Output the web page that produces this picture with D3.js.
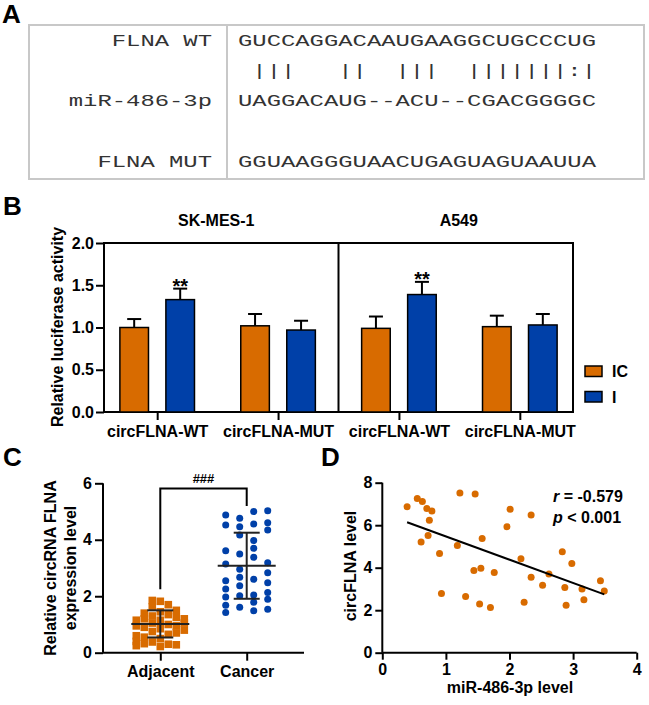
<!DOCTYPE html>
<html><head><meta charset="utf-8">
<script src="https://cdn.jsdelivr.net/npm/d3@7"></script>
<style>body{margin:0;background:#fff} svg{display:block}</style>
</head><body>
<svg id="c" width="649" height="705"></svg>
<script>
// ---------- Panel A data ----------
const seqLabels = ["FLNA WT", "", "miR-486-3p", "FLNA MUT"];
const seqRows = ["GUCCAGGACAAUGAAGGCUGCCCUG", " |||   ||  |||  |||||||:|", "UAGGACAUG--ACU--CGACGGGGC", "GGUAAGGGUAACUGAGUAGUAAUUA"];
// ---------- Panel B data ----------
const groups = ["circFLNA-WT", "circFLNA-MUT", "circFLNA-WT", "circFLNA-MUT"];
const cellLines = ["SK-MES-1", "A549"];
const seriesNames = ["IC", "I"];
const icMean = [1.00, 1.02, 0.99, 1.01];
const icErr = [0.10, 0.14, 0.14, 0.13];
const iMean = [1.33, 0.97, 1.39, 1.03];
const iErr = [0.13, 0.11, 0.15, 0.13];
const sigMarks = ["**", "", "**", ""];
const bTicks = [0, 0.5, 1, 1.5, 2];
// ---------- Panel C data ----------
const tissues = ["Adjacent", "Cancer"];
const adjacentCols = [
  [1.15, 0.95, 0.60, 0.40, 0.25],
  [1.40, 1.20, 0.90, 0.55, 0.32],
  [1.85, 1.62, 1.30, 1.05, 0.75, 0.38],
  [1.82, 1.45, 1.15, 0.85, 0.50, 0.22],
  [1.70, 1.35, 1.00, 0.65, 0.30],
  [1.50, 1.25, 0.95, 0.70, 0.28],
  [1.20, 1.05, 0.80]
];
const cancerCols = [
  [4.88, 4.52, 3.61, 3.14, 2.55, 2.26, 1.97, 1.68, 1.42],
  [4.76, 4.46, 4.17, 3.50, 2.96, 2.67, 2.37, 2.02, 1.61],
  [5.00, 4.56, 3.97, 3.70, 3.38, 2.60, 2.04, 1.79, 1.49],
  [5.03, 4.60, 4.35, 3.19, 2.83, 2.48, 2.13, 1.89, 1.54]
];
const tissueMean = [1.02, 3.08];
const tissueSD = [0.48, 1.17];
const cTicks = [0, 2, 4, 6];
const cSig = "###";
const cBracket = [2.25, 5.82, 5.20];
// ---------- Panel D data ----------
const mirLevel = [0.39,0.55,0.63,0.70,0.78,0.74,0.72,0.61,0.90,0.93,1.18,1.22,1.46,1.31,1.44,1.55,1.57,1.53,1.70,1.76,1.96,2.01,2.18,2.23,2.34,2.34,2.52,2.62,2.83,2.87,2.89,2.98,3.14,3.17,3.43,3.49];
const circLevel = [6.87,7.26,7.11,6.79,6.67,6.23,5.51,5.21,4.67,2.79,5.05,7.51,7.47,2.64,3.87,3.97,5.38,2.29,2.13,3.78,5.93,6.75,4.42,2.38,3.55,6.48,3.17,3.70,4.75,3.07,2.23,4.20,3.00,2.49,3.39,2.90];
const dxTicks = [0, 1, 2, 3, 4];
const dyTicks = [0, 2, 4, 6, 8];
const corrR = "-0.579";
const corrP = "< 0.001";

// ---------- styles ----------
const SANS = "'Liberation Sans', Arial, Helvetica, sans-serif";
const MONO = "'Liberation Mono', 'Courier New', monospace";
const ORANGE = "#D86B00";
const BLUE = "#0040A8";
const svg = d3.select("#c");

function styleAxis(g, fs) {
  g.select(".domain").attr("stroke", "#000").attr("stroke-width", 2);
  g.selectAll(".tick line").attr("stroke", "#000").attr("stroke-width", 2);
  g.selectAll("text").attr("font-family", SANS).attr("font-size", fs || 16)
    .attr("font-weight", "bold").attr("fill", "#000");
}
function panelLabel(t, x, y) {
  svg.append("text").attr("x", x).attr("y", y).text(t)
    .attr("font-family", SANS).attr("font-size", 26).attr("font-weight", "bold");
}

// ================= Panel A =================
panelLabel("A", 2, 23);
const boxTop = 25, boxBot = 179;
svg.append("rect").attr("x", 29).attr("y", boxTop).attr("width", 615).attr("height", boxBot - boxTop)
  .attr("fill", "none").attr("stroke", "#c8c8c8").attr("stroke-width", 2);
svg.append("line").attr("x1", 227).attr("x2", 227).attr("y1", boxTop).attr("y2", boxBot)
  .attr("stroke", "#c8c8c8").attr("stroke-width", 2);
const charW = 14.32;
const rowBase = [46, 76, 105.5, 167];
seqLabels.forEach((l, i) => {
  if (!l) return;
  svg.append("text").attr("x", 212).attr("y", rowBase[i]).attr("text-anchor", "end")
    .attr("font-family", MONO).attr("font-size", 16)
    .attr("textLength", l.length * charW).attr("lengthAdjust", "spacingAndGlyphs")
    .attr("fill", "#333").text(l);
});
seqRows.forEach((s, i) => {
  svg.append("text").attr("x", 238).attr("y", rowBase[i]).attr("xml:space", "preserve")
    .style("white-space", "pre")
    .attr("font-family", MONO).attr("font-size", 16)
    .attr("textLength", s.length * charW).attr("lengthAdjust", "spacingAndGlyphs")
    .attr("fill", "#333").text(s);
});

// ================= Panel B =================
panelLabel("B", 3, 215);
const bx = d3.scalePoint().domain(d3.range(groups.length)).range([104, 573]).padding(0.44);
const by = d3.scaleLinear().domain([0, 2]).range([412, 243]);
const bW = 28.6, bOff = 23;
const gB = svg.append("g");
gB.append("rect").attr("x", 104).attr("y", 243).attr("width", 469).attr("height", 169)
  .attr("fill", "none").attr("stroke", "#000").attr("stroke-width", 2);
const midX = (bx(1) + bx(2)) / 2;
gB.append("line").attr("x1", midX).attr("x2", midX).attr("y1", 243).attr("y2", 412)
  .attr("stroke", "#000").attr("stroke-width", 2);
cellLines.forEach((t, k) => {
  const cx = k === 0 ? (104 + midX) / 2 - 5 : (midX + 573) / 2 + 3;
  gB.append("text").attr("x", cx).attr("y", 226).attr("text-anchor", "middle")
    .attr("font-family", SANS).attr("font-size", 16).attr("font-weight", "bold").text(t);
});
const series = [
  { name: seriesNames[0], mean: icMean, err: icErr, color: ORANGE, off: -bOff },
  { name: seriesNames[1], mean: iMean, err: iErr, color: BLUE, off: bOff }
];
series.forEach(s => {
  s.mean.forEach((v, i) => {
    const cx = bx(i) + s.off;
    const top = by(v + s.err[i]);
    gB.append("line").attr("x1", cx).attr("x2", cx).attr("y1", by(v)).attr("y2", top)
      .attr("stroke", "#000").attr("stroke-width", 2);
    gB.append("line").attr("x1", cx - 7).attr("x2", cx + 7).attr("y1", top).attr("y2", top)
      .attr("stroke", "#000").attr("stroke-width", 2);
    gB.append("rect").attr("x", cx - bW / 2).attr("y", by(v)).attr("width", bW)
      .attr("height", by(0) - by(v)).attr("fill", s.color).attr("stroke", "#000").attr("stroke-width", 1.5);
  });
});
sigMarks.forEach((m, i) => {
  if (!m) return;
  const cx = bx(i) + bOff;
  gB.append("text").attr("x", cx).attr("y", by(iMean[i] + iErr[i]) + 4).attr("text-anchor", "middle")
    .attr("font-family", SANS).attr("font-size", 20).attr("font-weight", "bold").text(m);
});
const bLeft = gB.append("g").attr("transform", "translate(104,0)")
  .call(d3.axisLeft(by).tickValues(bTicks).tickFormat(d3.format(".1f")).tickSize(8).tickPadding(2));
styleAxis(bLeft);
bLeft.select(".domain").remove();
const bBottom = gB.append("g").attr("transform", "translate(0,412)")
  .call(d3.axisBottom(bx).tickFormat(i => groups[i]).tickSize(8).tickPadding(6));
styleAxis(bBottom);
bBottom.select(".domain").remove();
gB.append("text").attr("transform", "translate(63,327) rotate(-90)").attr("text-anchor", "middle")
  .attr("font-family", SANS).attr("font-size", 16).attr("font-weight", "bold").text("Relative luciferase activity");
series.forEach((s, k) => {
  const ly = 366 + k * 25.5;
  gB.append("rect").attr("x", 585).attr("y", ly).attr("width", 17).attr("height", 10.5)
    .attr("fill", s.color).attr("stroke", "#000").attr("stroke-width", 1.5);
  gB.append("text").attr("x", 612).attr("y", ly + 11).attr("font-family", SANS)
    .attr("font-size", 16).attr("font-weight", "bold").text(s.name);
});

// ================= Panel C =================
panelLabel("C", 3, 466);
const cx = d3.scalePoint().domain(tissues).range([103, 304]).padding(0.663);
const cy = d3.scaleLinear().domain([0, 6]).range([652.7, 483.3]);
const gC = svg.append("g");
const cL = gC.append("g").attr("transform", "translate(103,0)")
  .call(d3.axisLeft(cy).tickValues(cTicks).tickFormat(d3.format("d")).tickSize(8).tickPadding(3));
styleAxis(cL);
cL.select(".domain").attr("d", `M0,${cy(6)}V${cy(0)}`);
const cB = gC.append("g").attr("transform", "translate(0,652.7)")
  .call(d3.axisBottom(cx).tickSize(8).tickPadding(5));
styleAxis(cB);
cB.select(".domain").attr("d", "M103,0H304");
gC.append("text").attr("transform", "translate(56,568) rotate(-90)").attr("text-anchor", "middle")
  .attr("font-family", SANS).attr("font-size", 16).attr("font-weight", "bold").text("Relative circRNA FLNA");
gC.append("text").attr("transform", "translate(76,568) rotate(-90)").attr("text-anchor", "middle")
  .attr("font-family", SANS).attr("font-size", 16).attr("font-weight", "bold").text("expression level");
const adjStep = 8, sq = 7.6;
adjacentCols.forEach((col, j) => {
  const ox = cx("Adjacent") + (j - (adjacentCols.length - 1) / 2) * adjStep;
  col.forEach(v => {
    gC.append("rect").attr("x", ox - sq / 2).attr("y", cy(v) - sq / 2).attr("width", sq).attr("height", sq)
      .attr("fill", ORANGE);
  });
});
const canStep = 14;
cancerCols.forEach((col, j) => {
  const ox = cx("Cancer") + (j - (cancerCols.length - 1) / 2) * canStep;
  col.forEach(v => {
    gC.append("circle").attr("cx", ox).attr("cy", cy(v)).attr("r", 3.5).attr("fill", BLUE);
  });
});
tissues.forEach((t, k) => {
  const x0 = cx(t);
  const m = tissueMean[k], sd = tissueSD[k];
  const col = "#222", w = 2;
  gC.append("line").attr("x1", x0 - 29).attr("x2", x0 + 29).attr("y1", cy(m)).attr("y2", cy(m))
    .attr("stroke", col).attr("stroke-width", w);
  gC.append("line").attr("x1", x0).attr("x2", x0).attr("y1", cy(m - sd)).attr("y2", cy(m + sd))
    .attr("stroke", col).attr("stroke-width", w);
  [m - sd, m + sd].forEach(e => {
    gC.append("line").attr("x1", x0 - 13).attr("x2", x0 + 13).attr("y1", cy(e)).attr("y2", cy(e))
      .attr("stroke", col).attr("stroke-width", w);
  });
});
gC.append("path").attr("d", `M${cx("Adjacent")},${cy(cBracket[0])}V${cy(cBracket[1])}H${cx("Cancer")}V${cy(cBracket[2])}`)
  .attr("fill", "none").attr("stroke", "#000").attr("stroke-width", 2);
gC.append("text").attr("x", (cx("Adjacent") + cx("Cancer")) / 2).attr("y", cy(cBracket[1]) - 5)
  .attr("text-anchor", "middle").attr("font-family", SANS).attr("font-size", 13).attr("font-weight", "bold").text(cSig);

// ================= Panel D =================
panelLabel("D", 321, 466);
const dx = d3.scaleLinear().domain([0, 4]).range([382.3, 636.7]);
const dy = d3.scaleLinear().domain([0, 8]).range([652.7, 482.7]);
const gD = svg.append("g");
const dL = gD.append("g").attr("transform", "translate(382.3,0)")
  .call(d3.axisLeft(dy).tickValues(dyTicks).tickFormat(d3.format("d")).tickSize(7).tickPadding(3));
styleAxis(dL);
dL.select(".domain").attr("d", `M0,${dy(8)}V${dy(0)}`);
const dB = gD.append("g").attr("transform", "translate(0,652.7)")
  .call(d3.axisBottom(dx).tickValues(dxTicks).tickFormat(d3.format("d")).tickSize(7).tickPadding(4));
styleAxis(dB);
dB.select(".domain").attr("d", `M${dx(0)},0H${dx(4)}`);
gD.append("text").attr("transform", "translate(356,566) rotate(-90)").attr("text-anchor", "middle")
  .attr("font-family", SANS).attr("font-size", 16).attr("font-weight", "bold").text("circFLNA level");
gD.append("text").attr("x", 510).attr("y", 693).attr("text-anchor", "middle")
  .attr("font-family", SANS).attr("font-size", 16).attr("font-weight", "bold").text("miR-486-3p level");
mirLevel.forEach((xv, i) => {
  gD.append("circle").attr("cx", dx(xv)).attr("cy", dy(circLevel[i])).attr("r", 3.5).attr("fill", ORANGE);
});
const mx = d3.mean(mirLevel), my = d3.mean(circLevel);
let sxy = 0, sxx = 0;
mirLevel.forEach((xv, i) => { sxy += (xv - mx) * (circLevel[i] - my); sxx += (xv - mx) ** 2; });
const slope = sxy / sxx, icpt = my - slope * mx;
const [xmin, xmax] = d3.extent(mirLevel);
gD.append("line").attr("x1", dx(xmin)).attr("y1", dy(icpt + slope * xmin))
  .attr("x2", dx(xmax)).attr("y2", dy(icpt + slope * xmax)).attr("stroke", "#000").attr("stroke-width", 2);
const rt = gD.append("text").attr("x", 553).attr("y", 502).attr("font-family", SANS)
  .attr("font-size", 16).attr("font-weight", "bold");
rt.append("tspan").attr("font-style", "italic").text("r");
rt.append("tspan").text(" = " + corrR);
const pt = gD.append("text").attr("x", 553).attr("y", 523).attr("font-family", SANS)
  .attr("font-size", 16).attr("font-weight", "bold");
pt.append("tspan").attr("font-style", "italic").text("p");
pt.append("tspan").text(" " + corrP);
</script>
</body></html>
